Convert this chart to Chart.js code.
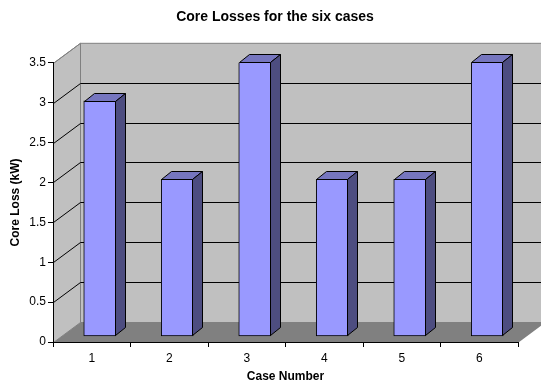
<!DOCTYPE html>
<html>
<head>
<meta charset="utf-8">
<style>
  html, body { margin: 0; padding: 0; background: #fff; }
  #wrap { width: 541px; height: 385px; }
</style>
<script src="https://cdn.jsdelivr.net/npm/chart.js@4"></script>
</head>
<body>
<div id="wrap"><canvas id="coreChart" width="541" height="385"></canvas></div>
<script>
// data
const categories = ['1', '2', '3', '4', '5', '6'];
const coreLoss = [3, 2, 3.5, 2, 2, 3.5];

const FONT = '"Liberation Sans", Arial, sans-serif';

// depth of the 3D box and of each bar, in pixels
const wallDx = 27, wallDy = -20;
const barDx = 10, barDy = -8;

function poly(ctx, pts, fill, stroke) {
    ctx.beginPath();
    pts.forEach((p, i) => i ? ctx.lineTo(p[0], p[1]) : ctx.moveTo(p[0], p[1]));
    ctx.closePath();
    ctx.fillStyle = fill;
    ctx.fill();
    if (stroke) {
        ctx.strokeStyle = stroke;
        ctx.lineWidth = 1;
        ctx.stroke();
    }
}

// walls, floor and gridlines, behind the axes
const box3d = {
    id: 'box3d',
    // the title sits centred on the box, not on the padded canvas
    afterLayout(chart) {
        chart.titleBlock.left += 16;
        chart.titleBlock.right += 16;
    },
    beforeDraw(chart) {
        const { ctx, chartArea: a, scales } = chart;
        const l = a.left + 0.5, r = a.right + 0.5, t = a.top + 0.5, b = a.bottom + 0.5;
        ctx.save();
        poly(ctx, [[l, t], [l + wallDx, t + wallDy], [l + wallDx, b + wallDy], [l, b]], '#c0c0c0', '#808080');
        poly(ctx, [[l + wallDx, t + wallDy], [r + wallDx, t + wallDy], [r + wallDx, b + wallDy], [l + wallDx, b + wallDy]], '#c0c0c0', '#808080');
        poly(ctx, [[l, b], [r, b], [r + wallDx, b + wallDy], [l + wallDx, b + wallDy]], '#808080');

        ctx.strokeStyle = '#000';
        ctx.lineWidth = 1;
        scales.y.ticks.forEach(tick => {
            if (tick.value === 0 || tick.value === 3.5) return;
            const y = Math.round(scales.y.getPixelForValue(tick.value)) + 0.5;
            ctx.beginPath();
            ctx.moveTo(l, y);
            ctx.lineTo(l + wallDx, y + wallDy);
            ctx.lineTo(r + wallDx, y + wallDy);
            ctx.stroke();
        });
        // top edge of the side wall reaches the axis at 3.5
        ctx.strokeStyle = '#808080';
        ctx.beginPath();
        ctx.moveTo(l, t);
        ctx.lineTo(l + wallDx, t + wallDy);
        ctx.stroke();
        ctx.restore();
    },
    // top and side faces of the bars
    afterDatasetsDraw(chart) {
        const ctx = chart.ctx;
        ctx.save();
        chart.getDatasetMeta(0).data.forEach(bar => {
            const x0 = Math.round(bar.x - bar.width / 2) + 0.5;
            const x1 = Math.round(bar.x + bar.width / 2) - 0.5;
            const top = Math.round(bar.y) + 0.5;
            const base = Math.round(bar.base) - 0.5;
            poly(ctx, [[x0, top], [x0 + barDx, top + barDy], [x1 + barDx, top + barDy], [x1, top]], '#7676bf', '#000');
            poly(ctx, [[x1, top], [x1 + barDx, top + barDy], [x1 + barDx, base + barDy], [x1, base]], '#4d4d80', '#000');
        });
        ctx.restore();
    }
};

new Chart(document.getElementById('coreChart'), {
    type: 'bar',
    plugins: [box3d],
    data: {
        labels: categories,
        datasets: [{
            label: 'Core Loss (kW)',
            data: categories.map((c, i) => ({ x: i + 1, y: coreLoss[i] })),
            xAxisID: 'xBar',
            yAxisID: 'yBar',
            backgroundColor: '#9999ff',
            borderColor: '#000',
            borderWidth: 1,
            barThickness: 32,
            borderSkipped: false
        }]
    },
    options: {
        responsive: false,
        animation: false,
        layout: { padding: { left: 0, right: 23, top: 0, bottom: 0 } },
        plugins: {
            legend: { display: false },
            tooltip: { enabled: false },
            title: {
                display: true,
                text: 'Core Losses for the six cases',
                color: '#000',
                font: { family: FONT, size: 14, weight: 'bold' },
                padding: { top: 9, bottom: 37 }
            }
        },
        scales: {
            x: {
                type: 'category',
                offset: true,
                grid: { drawOnChartArea: false, color: '#000', tickLength: 5, offset: true },
                border: { color: '#000' },
                ticks: { color: '#000', font: { family: FONT, size: 12 }, padding: 4, maxRotation: 0 },
                title: {
                    display: true,
                    text: 'Case Number',
                    color: '#000',
                    font: { family: FONT, size: 12, weight: 'bold' },
                    padding: { top: 3, bottom: 1 }
                },
                afterFit(scale) { scale.height = 43; }
            },
            y: {
                min: 0,
                max: 3.5,
                grid: { drawOnChartArea: false, color: '#000', tickLength: 5 },
                border: { color: '#000' },
                ticks: {
                    stepSize: 0.5,
                    color: '#000',
                    font: { family: FONT, size: 12 },
                    padding: 2,
                    callback: v => String(v)
                },
                title: {
                    display: true,
                    text: 'Core Loss (kW)',
                    color: '#000',
                    font: { family: FONT, size: 12, weight: 'bold' },
                    padding: { top: 8, bottom: 0 }
                },
                afterFit(scale) { scale.width = 53; }
            },
            // the bars stand in the middle of the box, so they get their own hidden scales
            xBar: { type: 'linear', display: false, offset: false, min: 0.397, max: 6.397 },
            yBar: { type: 'linear', display: false, min: -0.0766, max: 3.485 }
        }
    }
});
</script>
</body>
</html>
